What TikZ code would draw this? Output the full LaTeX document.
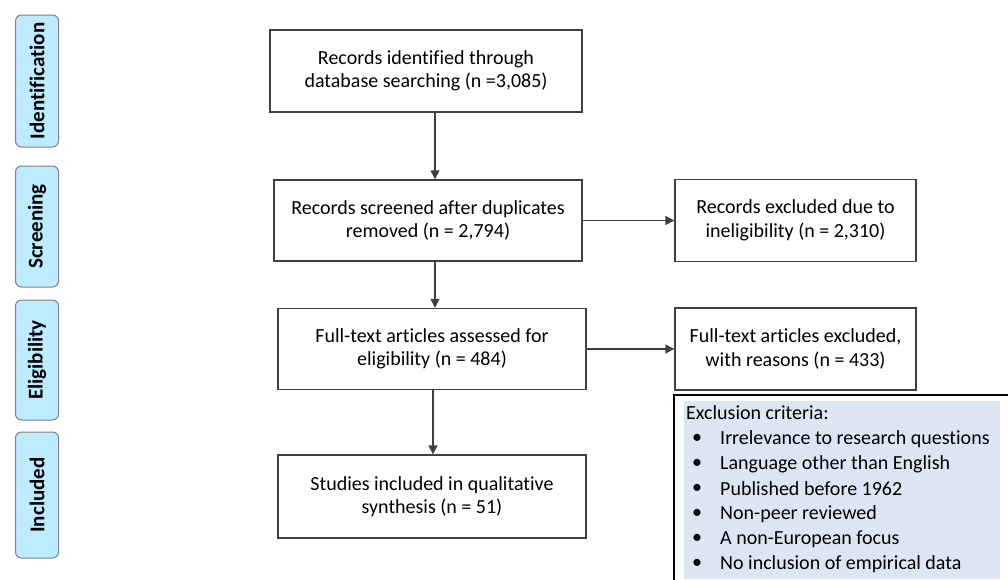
\documentclass[tikz,border=0pt]{standalone}
\usepackage{fontspec}
\setmainfont[Ligatures=NoCommon]{Carlito}
\usetikzlibrary{arrows.meta}

\definecolor{phasefill}{RGB}{189,235,255}
\definecolor{critfill}{RGB}{220,230,242}
\definecolor{edgegray}{RGB}{64,64,64}

\tikzset{
  flowbox/.style={draw=edgegray, line width=1.4pt, align=center, inner sep=2pt,
    font=\fontsize{20}{23.5}\selectfont},
  phase/.style={draw=gray, fill=phasefill, rounded corners=6pt, rotate=90,
    minimum height=43pt, line width=1pt, font=\fontsize{21}{24}\selectfont\bfseries},
  arr/.style={draw=edgegray, line width=1.4pt, -{Triangle[length=9pt,width=9pt]}},
  crit/.style={anchor=west, inner sep=0pt, font=\fontsize{20}{24}\selectfont}
}

\begin{document}
\begin{tikzpicture}[x=1pt,y=-1pt]
    \useasboundingbox (0,0) rectangle (1008,579);

    \foreach \lbl/\ymid/\len [count=\k] in {Identification/81/132, Screening/226.5/121,
        Eligibility/360/120, Included/495/126}
    \node[phase, minimum width=\len] (phase\k) at (37,\ymid) {\lbl};

    \node[flowbox, minimum width=312, minimum height=82] (ident) at (426,71)
      {Records identified through\\database searching (n =3,085)};
    \node[flowbox, minimum width=308, minimum height=81] (screen) at (428,220.5)
      {Records screened after duplicates\\removed (n = 2,794)};
    \node[flowbox, minimum width=241, minimum height=82] (exclA) at (795.5,220.5)
      {Records excluded due to\\ineligibility (n = 2,310)};
    \node[flowbox, minimum width=308, minimum height=81] (elig) at (432,349)
      {Full-text articles assessed for\\eligibility (n = 484)};
    \node[flowbox, minimum width=241, minimum height=82] (exclB) at (795.5,349)
      {Full-text articles excluded,\\with reasons (n = 433)};
    \node[flowbox, minimum width=308, minimum height=83] (incl) at (432,496.5)
      {Studies included in qualitative\\synthesis (n = 51)};

    % exclusion criteria panel
    \draw[line width=1.4pt] (674,395) rectangle (1012,585);
    \fill[critfill] (684,401) rectangle (1000,579);
    \node[crit] (crithead) at (686,413) {Exclusion criteria:};
    \foreach \txt [count=\i] in {Irrelevance to research questions, Language other than English,
        Published before 1962, Non-peer reviewed, A non-European focus,
        No inclusion of empirical data}
    {
    \node[crit] (bul\i) at (692,414+25*\i) {\textbullet};
    \node[crit] (crit\i) at (720,414+25*\i) {\txt};
    }

    \draw[arr] ([xshift=9pt]ident.south) -- ([xshift=9pt]ident.south |- screen.north);
    \draw[arr] ([xshift=7pt]screen.south) -- ([xshift=7pt]screen.south |- elig.north);
    \draw[arr] ([xshift=1pt]elig.south) -- ([xshift=1pt]elig.south |- incl.north);
    \draw[arr] (screen.east) -- (exclA.west);
    \draw[arr] (elig.east) -- (exclB.west);
  \end{tikzpicture}
\end{document}
